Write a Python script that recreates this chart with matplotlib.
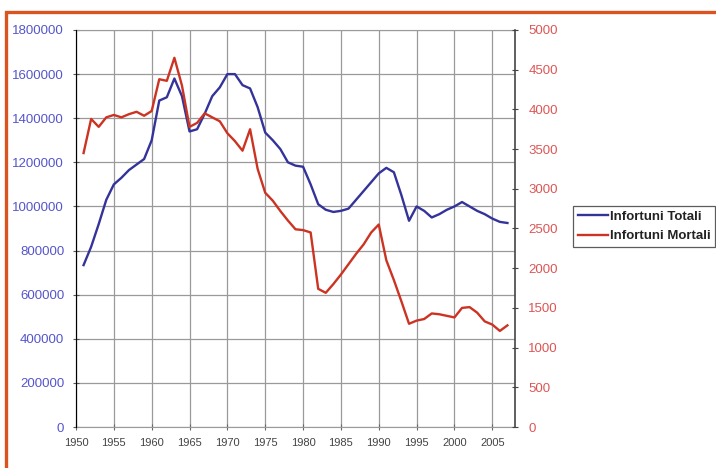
import matplotlib
matplotlib.use("Agg")
import matplotlib.pyplot as plt
from matplotlib.patches import Rectangle
from matplotlib.ticker import MultipleLocator, FuncFormatter

years = list(range(1951, 2008))

infortuni_totali = [
    734000, 817000, 920000, 1030000, 1100000, 1130000, 1165000, 1190000, 1215000, 1300000,
    1480000, 1495000, 1580000, 1500000, 1340000, 1350000, 1420000, 1500000, 1540000, 1600000,
    1600000, 1550000, 1535000, 1450000, 1335000, 1300000, 1260000, 1200000, 1185000, 1180000,
    1100000, 1010000, 985000, 975000, 980000, 990000, 1030000, 1070000, 1110000, 1150000,
    1175000, 1155000, 1050000, 935000, 1000000, 980000, 950000, 965000, 985000, 1000000,
    1020000, 1000000, 980000, 965000, 945000, 930000, 925000,
]

infortuni_mortali = [
    3450, 3880, 3780, 3900, 3930, 3900, 3940, 3970, 3920, 3980,
    4380, 4360, 4650, 4300, 3780, 3830, 3950, 3900, 3850, 3700,
    3600, 3480, 3750, 3250, 2950, 2850, 2720, 2600, 2490, 2480,
    2450, 1740, 1690, 1800, 1920, 2050, 2180, 2300, 2450, 2550,
    2100, 1850, 1580, 1300, 1340, 1360, 1430, 1420, 1400, 1380,
    1500, 1510, 1440, 1330, 1290, 1210, 1280,
]

x_ticks = list(range(1950, 2006, 5))
series_labels = ["Infortuni Totali", "Infortuni Mortali"]

BLUE = "#33339a"
RED = "#cc3322"
GRID = "#9a9a9a"

plt.rcParams["font.family"] = ["Liberation Sans", "DejaVu Sans"]

fig = plt.figure(figsize=(7.16, 4.68), dpi=100)
fig.patch.set_facecolor("white")

# orange frame running off the right and bottom edges
fig.patches.append(Rectangle((6 / 716, -0.1), 1.2, (468 - 12) / 468 + 0.1,
                             transform=fig.transFigure, fill=False,
                             edgecolor="#d9541e", linewidth=2.4, zorder=0))

ax = fig.add_axes([76 / 716, (468 - 427) / 468, 439 / 716, 397 / 468])
ax2 = ax.twinx()

ax.set_xlim(1950, 2008)
ax.set_ylim(0, 1800000)
ax2.set_ylim(0, 5000)

ax.yaxis.set_major_locator(MultipleLocator(200000))
ax2.yaxis.set_major_locator(MultipleLocator(500))
ax.set_xticks(x_ticks)
ax.set_xticklabels([str(y) for y in x_ticks])
ax.yaxis.set_major_formatter(FuncFormatter(lambda v, p: f"{int(v)}"))
ax2.yaxis.set_major_formatter(FuncFormatter(lambda v, p: f"{int(v)}"))

ax.grid(True, color=GRID, linewidth=0.9)
ax.set_axisbelow(True)

l1, = ax.plot(years, infortuni_totali, color=BLUE, linewidth=1.7, zorder=3)
l2, = ax2.plot(years, infortuni_mortali, color=RED, linewidth=1.7, zorder=3)

for s in ["top", "bottom"]:
    ax.spines[s].set_color(GRID)
    ax2.spines[s].set_visible(False)
ax.spines["left"].set_color("#555555")
ax2.spines["right"].set_color("#444444")
ax2.spines["right"].set_linewidth(1.2)
ax.spines["right"].set_visible(False)

ax.tick_params(axis="y", colors="#555555", labelcolor="#5555cc", labelsize=9.5,
               direction="inout", length=5, pad=6)
ax2.tick_params(axis="y", colors="#444444", labelcolor="#dd5555", labelsize=9.5,
                direction="inout", length=5, pad=7)
ax.tick_params(axis="x", colors="#666666", labelcolor="#444444", labelsize=8,
               direction="inout", length=4, pad=6)

leg = fig.legend([l1, l2], series_labels, loc="upper left",
                 bbox_to_anchor=(573 / 716, 1 - 206 / 468),
                 frameon=True, fancybox=False, edgecolor="#333333",
                 prop={"size": 9.5, "weight": "bold"}, handlelength=2.3,
                 handletextpad=0.15, borderpad=0.35, labelspacing=0.55,
                 borderaxespad=0)
leg.get_frame().set_linewidth(0.9)
for t in leg.get_texts():
    t.set_color("#222222")

fig.savefig("out.png", dpi=100)
